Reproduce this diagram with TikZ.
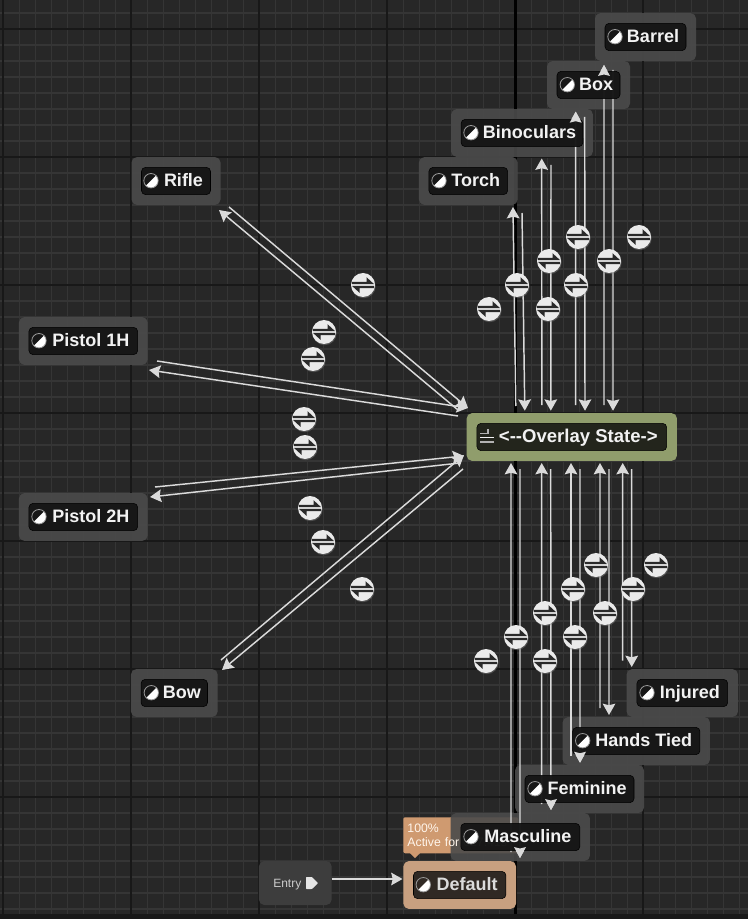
\documentclass[tikz,border=0pt]{standalone}
\usepackage{fontspec}
\setmainfont{Liberation Sans}
\usepackage{tikz}
\usetikzlibrary{arrows.meta}
\usetikzlibrary{shadows}
\definecolor{canvasBg}{HTML}{272727}
\definecolor{gridMinor}{HTML}{353535}
\definecolor{gridMajor}{HTML}{181818}
\definecolor{boxGrey}{HTML}{4B4B4B}
\definecolor{tagBlack}{HTML}{161616}
\definecolor{wireGrey}{HTML}{DADADA}
\definecolor{olive}{HTML}{909D6C}
\definecolor{oliveTag}{HTML}{20221A}
\definecolor{sand}{HTML}{C8A080}
\definecolor{sandTag}{HTML}{2C2622}
\definecolor{tipOrange}{HTML}{CF9A70}
\definecolor{discWhite}{HTML}{EAEAEA}
\definecolor{discInk}{HTML}{2A2A2A}

\begin{document}
\begin{tikzpicture}
  [
    x=0.75pt, y=-0.75pt,
    stateBox/.style={
       rectangle,
       rounded corners=4pt,
       fill=boxGrey,
       fill opacity=0.9,
       text opacity=1,
       minimum height=35.8pt,
       inner sep=0pt
    },
    tag/.style={
       rectangle,
       rounded corners=3pt,
       fill=tagBlack,
       draw=black,
       line width=0.4pt,
       fill opacity=0.97,
       text opacity=1,
       text=white!95!black,
       font=\bfseries\fontsize{13.5}{16}\selectfont,
       text height=10pt,
       text depth=1.8pt,
       minimum height=20.4pt,
       inner sep=0pt
    },
    halfDisc/.style={
       circle,
       draw=white!60!black,
       line width=0.6pt,
       minimum size=10.8pt,
       inner sep=0pt,
       path picture={
         \fill [white] (path picture bounding box.north east)
           -- (path picture bounding box.south west)
           -- (path picture bounding box.south east) -- cycle;
       }
    },
    swap/.style={
       circle,
       fill=discWhite,
       minimum size=18pt,
       inner sep=0pt,
       drop shadow={opacity=0.45, shadow xshift=0.5pt, shadow yshift=-0.9pt},
       path picture={
         \fill [discInk] (-11,-3.2) -- (3.5,-3.2) -- (3.5,-7.8) -- (11,-0.9) -- (-11,-0.9) -- cycle;
         \fill [discInk] (11,3.2) -- (-3.5,3.2) -- (-3.5,7.8) -- (-11,0.9) -- (11,0.9) -- cycle;
       }
    },
    ld/.style={
       draw=wireGrey,
       line width=1.1pt,
       -{Stealth[length=8.5pt,width=9.5pt,inset=1.2pt]}
    }
  ]
  \useasboundingbox (0,0) rectangle (748,919);
  \fill [canvasBg] (0,0) rectangle (748,919);

  % grid
  \foreach \k in {0,...,46}
    \draw [gridMinor, line width=1.3pt] (3.4+16*\k,0) -- (3.4+16*\k,919);
  \foreach \k in {0,...,57}
    \draw [gridMinor, line width=1.3pt] (0,13+16*\k) -- (748,13+16*\k);
  \foreach \k in {0,...,5}
    \draw [gridMajor, line width=1.4pt] (3.4+128*\k,0) -- (3.4+128*\k,919);
  \foreach \k in {0,...,6}
    \draw [gridMajor, line width=1.4pt] (0,29+128*\k) -- (748,29+128*\k);
  \draw [black, line width=1.8pt] (515.4,0) -- (515.4,919);
  \fill [gridMajor] (0,914) rectangle (748,919);

  % outer boxes
  \node (barrel)    at (645.5, 37)   [stateBox, minimum width=75.75pt] {};
  \node (box)       at (588.5, 85)   [stateBox, minimum width=62.25pt] {};
  \node (binocs)    at (522.0,133)   [stateBox, minimum width=106.3pt] {};
  \node (torch)     at (468.3,181)   [stateBox, minimum width=74pt]    {};
  \node (rifle)     at (176.0,181)   [stateBox, minimum width=66.75pt] {};
  \node (pistolOne) at ( 83.3,341)   [stateBox, minimum width=96.5pt]  {};
  \node (pistolTwo) at ( 83.3,517)   [stateBox, minimum width=96.5pt]  {};
  \node (bow)       at (174.3,693)   [stateBox, minimum width=65pt]    {};
  \node (ovl)       at (571.8,437)   [stateBox, minimum width=157.7pt, fill=olive, fill opacity=1] {};
  \node (injured)   at (682.3,693)   [stateBox, minimum width=83.5pt]  {};
  \node (handsTied) at (636.3,741)   [stateBox, minimum width=110.5pt] {};
  \node (feminine)  at (579.5,789)   [stateBox, minimum width=96.75pt] {};
  \node (default)   at (459.7,885)   [stateBox, minimum width=84.5pt, fill=sand, fill opacity=1] {};
  \node (entry)     at (295.3,883)   [stateBox, minimum width=54.5pt, minimum height=33pt, fill=white!24!black, fill opacity=1,
                                      text=white!80!black, font=\fontsize{9}{11}\selectfont,
                                      text height=6.8pt, text depth=0pt] {\hspace*{-12pt}Entry};

  % tooltip above the default state
  \node (activeTip) at (403,817) [anchor=north west, rectangle, rounded corners=1.5pt, fill=tipOrange, inner sep=0pt,
                                  minimum width=86.25pt, minimum height=27pt] {};
  \fill [tipOrange] (410,853) -- (420,853) -- (415,858) -- cycle;
  \node (masculine) at (520.3,837)   [stateBox, minimum width=104.5pt] {};
  \node (activeText) at (403,817) [anchor=north west, inner sep=0pt, minimum width=86.25pt, minimum height=27pt,
                                   text=white!92!orange, font=\fontsize{9.2}{11.2}\selectfont, align=left, text width=84pt]
                                  {\hspace*{2pt}100\%\\\hspace*{2pt}Active for 027.41s};

  % entry pin
  \fill [white!90!black, rounded corners=0.5pt] (306,877) -- (312,877) -- (318,883) -- (312,889) -- (306,889) -- cycle;

  % upper group
  \draw [ld] ([shift={(-56,-31)}]ovl.center) -- ([shift={(44.7,26)}]torch.center);
  \draw [ld] ([shift={(53.7,32)}]torch.center) -- ([shift={(-47,-26.3)}]ovl.center);
  \draw [ld] ([shift={(-30,-32)}]ovl.center) -- ([shift={(19.7,25.5)}]binocs.center);
  \draw [ld] ([shift={(29,32)}]binocs.center) -- ([shift={(-21,-26.3)}]ovl.center);
  \draw [ld] ([shift={(3.9,-32)}]ovl.center) -- ([shift={(-12.8,26.7)}]box.center);
  \draw [ld] ([shift={(-3.8,32)}]box.center) -- ([shift={(13.2,-26.3)}]ovl.center);
  \draw [ld] ([shift={(32.2,-32)}]ovl.center) -- ([shift={(-41.5,28)}]barrel.center);
  \draw [ld] ([shift={(-32.5,33)}]barrel.center) -- ([shift={(41.2,-26.3)}]ovl.center);

  % lower group
  \draw [ld] ([shift={(51.3,-33)}]default.center) -- ([shift={(-60.8,26)}]ovl.center);
  \draw [ld] ([shift={(-51.8,32)}]ovl.center) -- ([shift={(60.3,-27)}]default.center);
  \draw [ld] ([shift={(21.4,-33)}]masculine.center) -- ([shift={(-30.1,26)}]ovl.center);
  \draw [ld] ([shift={(-21.1,32)}]ovl.center) -- ([shift={(30.7,-27)}]masculine.center);
  \draw [ld] ([shift={(-8.5,-33)}]feminine.center) -- ([shift={(-0.8,26)}]ovl.center);
  \draw [ld] ([shift={(8.2,32)}]ovl.center) -- ([shift={(0.5,-26.3)}]feminine.center);
  \draw [ld] ([shift={(-36.3,-33)}]handsTied.center) -- ([shift={(28.2,26)}]ovl.center);
  \draw [ld] ([shift={(37.2,32)}]ovl.center) -- ([shift={(-27.3,-26)}]handsTied.center);
  \draw [ld] ([shift={(-59.6,-32.3)}]injured.center) -- ([shift={(50.9,26)}]ovl.center);
  \draw [ld] ([shift={(59.9,32)}]ovl.center) -- ([shift={(-50.6,-26)}]injured.center);

  % left group
  \draw [ld] ([shift={(53,26)}]rifle.center) -- ([shift={(-103.8,-29)}]ovl.center);
  \draw [ld] ([shift={(-113.8,-27)}]ovl.center) -- ([shift={(43,29)}]rifle.center);
  \draw [ld] ([shift={(73.7,20)}]pistolOne.center) -- ([shift={(-103.8,-29)}]ovl.center);
  \draw [ld] ([shift={(-113.8,-21)}]ovl.center) -- ([shift={(65.7,29)}]pistolOne.center);
  \draw [ld] ([shift={(71.7,-30)}]pistolTwo.center) -- ([shift={(-107.8,19)}]ovl.center);
  \draw [ld] ([shift={(-111.8,26)}]ovl.center) -- ([shift={(66.7,-20)}]pistolTwo.center);
  \draw [ld] ([shift={(46.7,-33)}]bow.center) -- ([shift={(-107.8,18)}]ovl.center);
  \draw [ld] ([shift={(-108.8,32)}]ovl.center) -- ([shift={(47.7,-23)}]bow.center);

  % entry wire
  \draw [ld] ([shift={(36.4,-4)}]entry.center) -- ([shift={(-57.2,-6)}]default.center);

  % transition discs
  \node (s01) at (639,237) [swap] {};
  \node (s02) at (578,237) [swap] {};
  \node (s03) at (609,261) [swap] {};
  \node (s04) at (549,261) [swap] {};
  \node (s05) at (517,285) [swap] {};
  \node (s06) at (576,285) [swap] {};
  \node (s07) at (489,309) [swap] {};
  \node (s08) at (548,309) [swap] {};
  \node (s09) at (363,285) [swap] {};
  \node (s10) at (324,332) [swap] {};
  \node (s11) at (313,359) [swap] {};
  \node (s12) at (304,419) [swap] {};
  \node (s13) at (305,447) [swap] {};
  \node (s14) at (310,508) [swap] {};
  \node (s15) at (323,542) [swap] {};
  \node (s16) at (362,589) [swap] {};
  \node (s17) at (656,565) [swap] {};
  \node (s18) at (596,565) [swap] {};
  \node (s19) at (633,589) [swap] {};
  \node (s20) at (573,589) [swap] {};
  \node (s21) at (605,613) [swap] {};
  \node (s22) at (545,613) [swap] {};
  \node (s23) at (516,637) [swap] {};
  \node (s24) at (575,637) [swap] {};
  \node (s25) at (486,661) [swap] {};
  \node (s26) at (545,661) [swap] {};

  % name tags
  \node (barrelTag)    at (645.5, 37) [tag, minimum width=60.75pt] {\hspace*{11.25pt}Barrel};
  \node (boxTag)       at (588.5, 85) [tag, minimum width=47.25pt] {\hspace*{11.25pt}Box};
  \node (binocsTag)    at (522.0,133) [tag, minimum width=91.3pt]  {\hspace*{11.25pt}Binoculars};
  \node (torchTag)     at (468.3,181) [tag, minimum width=59pt]    {\hspace*{11.25pt}Torch};
  \node (rifleTag)     at (176.0,181) [tag, minimum width=51.75pt] {\hspace*{11.25pt}Rifle};
  \node (pistolOneTag) at ( 83.3,341) [tag, minimum width=81.5pt]  {\hspace*{11.25pt}Pistol 1H};
  \node (pistolTwoTag) at ( 83.3,517) [tag, minimum width=81.5pt]  {\hspace*{11.25pt}Pistol 2H};
  \node (bowTag)       at (174.3,693) [tag, minimum width=49.8pt]  {\hspace*{11.25pt}Bow};
  \node (ovlTag)       at (571.8,437) [tag, minimum width=142.3pt, fill=oliveTag,
                                       font=\bfseries\fontsize{13.9}{16}\selectfont] {\hspace*{9.75pt}<{-}{-}Overlay State->};
  \node (injuredTag)   at (682.3,693) [tag, minimum width=68pt]    {\hspace*{11.25pt}Injured};
  \node (handsTiedTag) at (636.3,741) [tag, minimum width=95.5pt]  {\hspace*{11.25pt}Hands Tied};
  \node (feminineTag)  at (579.5,789) [tag, minimum width=81.75pt] {\hspace*{11.25pt}Feminine};
  \node (masculineTag) at (520.3,837) [tag, minimum width=89.25pt] {\hspace*{11.25pt}Masculine};
  \node (defaultTag)   at (459.7,885) [tag, minimum width=69.3pt, fill=sandTag, text=white!86!black] {\hspace*{11.25pt}Default};

  % heads that lie over a tag
  \fill [wireGrey] (604,65) -- (610,76) -- (604,74.5) -- (598,76) -- cycle;
  \fill [wireGrey] (575.7,111.7) -- (581.7,122.7) -- (575.7,121.2) -- (569.7,122.7) -- cycle;
  \fill [wireGrey] (580,762.7) -- (586,751.7) -- (580,753.2) -- (574,751.7) -- cycle;
  \fill [wireGrey] (551,810) -- (557,799) -- (551,800.5) -- (545,799) -- cycle;
  \fill [wireGrey] (520,858) -- (526,847) -- (520,848.5) -- (514,847) -- cycle;

  \node (barrelIc)    at (615.0, 36.7) [halfDisc] {};
  \node (boxIc)       at (567.3, 84.7) [halfDisc] {};
  \node (binocsIc)    at (471.0,132.7) [halfDisc] {};
  \node (torchIc)     at (439.0,180.7) [halfDisc] {};
  \node (rifleIc)     at (151.0,180.7) [halfDisc] {};
  \node (pistolOneIc) at ( 39.0,340.7) [halfDisc] {};
  \node (pistolTwoIc) at ( 39.0,516.7) [halfDisc] {};
  \node (bowIc)       at (151.3,692.7) [halfDisc] {};
  \node (injuredIc)   at (647.0,692.7) [halfDisc] {};
  \node (handsTiedIc) at (582.7,740.7) [halfDisc] {};
  \node (feminineIc)  at (535.0,788.7) [halfDisc] {};
  \node (masculineIc) at (471.0,836.7) [halfDisc] {};
  \node (defaultIc)   at (423.3,884.7) [halfDisc] {};

  % overlay state glyph
  \draw [white!70!black, line width=0.9pt] (480,433.5) -- (488,433.5) -- (488,429);
  \draw [white!95!black, line width=1.1pt] (480,437.5) -- (494,437.5);
  \draw [white!70!black, line width=0.9pt] (480,442) -- (494,442);
\end{tikzpicture}
\end{document}
